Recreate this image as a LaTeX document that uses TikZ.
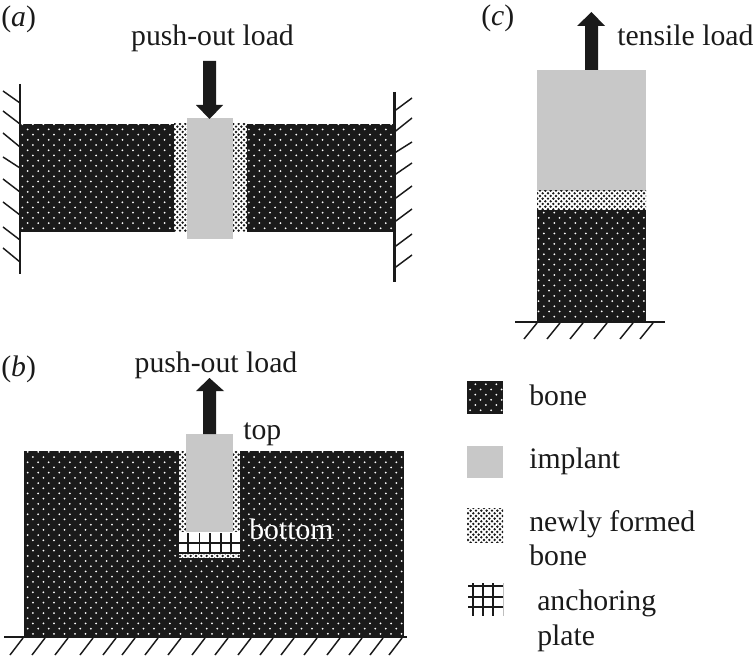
\documentclass[tikz,border=0pt]{standalone}
\usepackage{fontspec}
\setmainfont{Liberation Serif}
\usetikzlibrary{patterns}
\definecolor{boneblk}{HTML}{1A1A1A}
\definecolor{implantgr}{HTML}{C8C8C8}
\pgfdeclarepatternformonly{bonedots}{\pgfqpoint{-1pt}{-1pt}}{\pgfqpoint{9pt}{9pt}}{\pgfqpoint{7.9pt}{7.8pt}}{%
  \pgfpathcircle{\pgfqpoint{1pt}{1pt}}{0.75pt}\pgfpathcircle{\pgfqpoint{4.95pt}{4.9pt}}{0.75pt}\pgfusepath{fill}}
\pgfdeclarepatternformonly{newdots}{\pgfqpoint{-1pt}{-1pt}}{\pgfqpoint{5pt}{5pt}}{\pgfqpoint{4pt}{4pt}}{%
  \pgfpathcircle{\pgfqpoint{1pt}{1pt}}{1pt}\pgfpathcircle{\pgfqpoint{3pt}{3pt}}{1pt}\pgfusepath{fill}}
\tikzset{x=0.75pt,y=-0.75pt,
  bonearea/.style={preaction={fill=boneblk},pattern=bonedots,pattern color=white,draw=none},
  newbone/.style={preaction={fill=white},pattern=newdots,pattern color=boneblk,draw=none},
  implant/.style={fill=implantgr,draw=none},
  wall/.style={draw=boneblk,line width=1.9pt},
  hatch/.style={draw=boneblk,line width=1.1pt},
  loadarrow/.style={fill=boneblk,draw=none},
  lbl/.style={inner sep=0pt,font=\fontsize{22.3pt}{25pt}\selectfont,text=boneblk},
  gridline/.style={draw=boneblk,line width=1.1pt}}
\begin{document}
\begin{tikzpicture}
\useasboundingbox (0,0) rectangle (754,656);
% panel a
\fill[bonearea] (20,124) rectangle (174,232);
\fill[bonearea] (247,124) rectangle (394,232);
\fill[newbone] (174,124) rectangle (187,232);
\fill[newbone] (233,124) rectangle (247,232);
\fill[implant] (187,118.5) rectangle (233,239);
\draw[wall] (20,84) -- (20,274);
\draw[wall] (394.5,92) -- (394.5,282);
\foreach \y/\z in {103/91,124/111,147/133,168/157,192/179,215/202,240/227,262/248}
  \draw[hatch] (20,\y) -- (3,\z);
\foreach \y/\z in {111/98,132/118,153/142,175/163,199/186,222/209,247/234,268/255}
  \draw[hatch] (394.5,\y) -- (412,\z);
\fill[loadarrow] (203,61) -- (216,61) -- (216,105) -- (223,105) -- (209.5,119) -- (196,105) -- (203,105) -- cycle;
% panel c
\fill[implant] (537,70) rectangle (646,191);
\fill[newbone] (537,191) rectangle (646,210);
\fill[bonearea] (537,210) rectangle (646,322);
\draw[wall] (515,322) -- (665,322);
\foreach \x in {537,560,583,607,633,653}
  \draw[hatch] (\x,323) -- (\x-13,339);
\fill[loadarrow] (585,70) -- (598,70) -- (598,26) -- (605,26) -- (591.5,12) -- (577,26) -- (585,26) -- cycle;
% panel b
\fill[bonearea] (24,451) rectangle (404,636);
\fill[white] (179,451) rectangle (240,558);
\fill[newbone] (179,451) rectangle (240,558);
\fill[implant] (186,434) rectangle (232.5,532);
\fill[white] (179,532) rectangle (240,553);
\foreach \x in {188,199.5,210,221,231}
  \draw[gridline] (\x,533) -- (\x,553);
\draw[gridline] (179,543) -- (240,543);
\draw[gridline] (179,553) -- (240,553);
\draw[wall] (4,637) -- (407,637);
\foreach \x in {23,45,68,93,116,135,158,181,205,228,251,273,294,317,340,362,383,402}
  \draw[hatch] (\x,638) -- (\x-13,655);
\fill[loadarrow] (203,434) -- (216,434) -- (216,391) -- (224,391) -- (209.5,378) -- (196,391) -- (203,391) -- cycle;
% legend
\fill[bonearea] (467,381) rectangle (503,414);
\fill[implant] (467,446) rectangle (503,478);
\fill[newbone] (467,508) rectangle (503,542);
\foreach \x in {473,483,493} \draw[gridline] (\x,583) -- (\x,616);
\foreach \y in {586,597,607} \draw[gridline] (468,\y) -- (504,\y);
\draw[draw=gray!50,line width=.4pt] (503.5,583) -- (503.5,616);
% labels
\node[lbl,anchor=base west] (la) at (1,27) {(\textit{a})};
\node[lbl,anchor=base west] (lb) at (1,376) {(\textit{b})};
\node[lbl,anchor=base west] (lc) at (481,25.5) {(\textit{c})};
\node[lbl,anchor=base] (p1) at (212.5,46) {push-out load};
\node[lbl,anchor=base] (p2) at (216,372) {push-out load};
\node[lbl,anchor=base west] (t) at (617,46) {tensile load};
\node[lbl,anchor=base west] (top) at (243,439) {top};
\node[lbl,anchor=base west,text=white] (bot) at (249,539) {bottom};
\node[lbl,anchor=base west] (l1) at (529,405) {bone};
\node[lbl,anchor=base west] (l2) at (529,468) {implant};
\node[lbl,anchor=base west] (l3) at (529,531) {newly formed};
\node[lbl,anchor=base west] (l3b) at (529,565) {bone};
\node[lbl,anchor=base west] (l4) at (537,610.5) {anchoring};
\node[lbl,anchor=base west] (l4b) at (537,645) {plate};
\end{tikzpicture}
\end{document}
